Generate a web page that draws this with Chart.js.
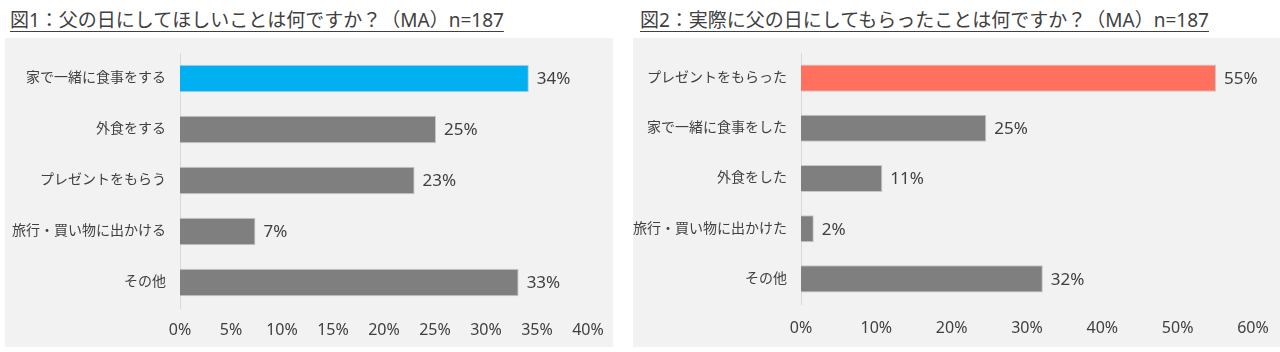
<!DOCTYPE html>
<html>
<head>
<meta charset="utf-8">
<script src="https://cdn.jsdelivr.net/npm/chart.js@4/dist/chart.umd.min.js"></script>
<style>
  body { margin: 0; background: #fff; width: 1280px; height: 352px; overflow: hidden; position: relative;
         font-family: "Noto Sans", "Noto Sans CJK JP", sans-serif; color: #404040; }
  .title { position: absolute; top: 6px; font-size: 19px; text-decoration: underline; text-underline-offset: 4px;
           white-space: nowrap; line-height: 28px; }
  .box { position: absolute; top: 38px; height: 309px; background: #f2f2f2; }
</style>
</head>
<body>
<div class="title" style="left:10px">図1：父の日にしてほしいことは何ですか？（MA）n=187</div>
<div class="title" style="left:640px">図2：実際に父の日にしてもらったことは何ですか？（MA）n=187</div>
<div class="box" style="left:5px; width:608px"><canvas id="chart1"></canvas></div>
<div class="box" style="left:633px; width:647px"><canvas id="chart2"></canvas></div>

<script>
"use strict";

// chart 1: what fathers want
const wantLabels = ['家で一緒に食事をする', '外食をする', 'プレゼントをもらう', '旅行・買い物に出かける', 'その他'];
const wantValues = [34.2, 25.1, 23.0, 7.4, 33.2];
const wantMax = 40;
const wantStep = 5;

// chart 2: what fathers actually got
const gotLabels = ['プレゼントをもらった', '家で一緒に食事をした', '外食をした', '旅行・買い物に出かけた', 'その他'];
const gotValues = [55.1, 24.6, 10.8, 1.7, 32.1];
const gotMax = 60;
const gotStep = 10;

const textColor = '#404040';
const fontStack = '"Noto Sans", "Noto Sans CJK JP", sans-serif';

// draws "34%" etc. just right of every bar
const valueLabels = {
  id: 'valueLabels',
  afterDatasetsDraw(chart) {
    const c = chart.ctx;
    const ds = chart.data.datasets[0];
    c.save();
    c.font = '17px ' + fontStack;
    c.fillStyle = textColor;
    c.textBaseline = 'middle';
    c.textAlign = 'left';
    chart.getDatasetMeta(0).data.forEach((bar, i) => {
      c.fillText(Math.round(ds.data[i]) + '%', bar.x + 8, bar.y + 1);
    });
    c.restore();
  }
};

function makeChart(id, labels, values, highlight, max, step, yWidth, padRight, xHeight, tickPad) {
  const colors = values.map((v, i) => i === 0 ? highlight : '#7f7f7f');
  return new Chart(document.getElementById(id), {
    type: 'bar',
    data: {
      labels: labels,
      datasets: [{
        data: values,
        backgroundColor: colors,
        borderColor: '#c8c8c8',
        borderWidth: 1,
        categoryPercentage: 1,
        barPercentage: 0.54
      }]
    },
    options: {
      indexAxis: 'y',
      responsive: true,
      maintainAspectRatio: false,
      animation: false,
      layout: { padding: { left: 0, right: padRight, top: 15, bottom: 0 } },
      plugins: { legend: { display: false }, tooltip: { enabled: false } },
      scales: {
        x: {
          min: 0,
          max: max,
          grid: { display: false, drawTicks: false },
          border: { display: false },
          afterFit: (s) => { s.height = xHeight; s.paddingLeft = 0; s.paddingRight = 0; },
          ticks: {
            stepSize: step,
            padding: tickPad,
            color: textColor,
            font: { family: fontStack, size: 16 },
            callback: (v) => v + '%'
          }
        },
        y: {
          grid: { display: false, drawTicks: false },
          border: { display: true, color: '#d9d9d9', width: 1 },
          afterFit: (s) => { s.width = yWidth; s.paddingTop = 0; s.paddingBottom = 0; },
          ticks: {
            padding: 14,
            color: textColor,
            font: { family: fontStack, size: 14 }
          }
        }
      }
    },
    plugins: [valueLabels]
  });
}

makeChart('chart1', wantLabels, wantValues, '#00b0f0', wantMax, wantStep, 175, 25, 39, 13);
makeChart('chart2', gotLabels, gotValues, '#ff715e', gotMax, gotStep, 168, 27, 43, 15);
</script>
</body>
</html>
